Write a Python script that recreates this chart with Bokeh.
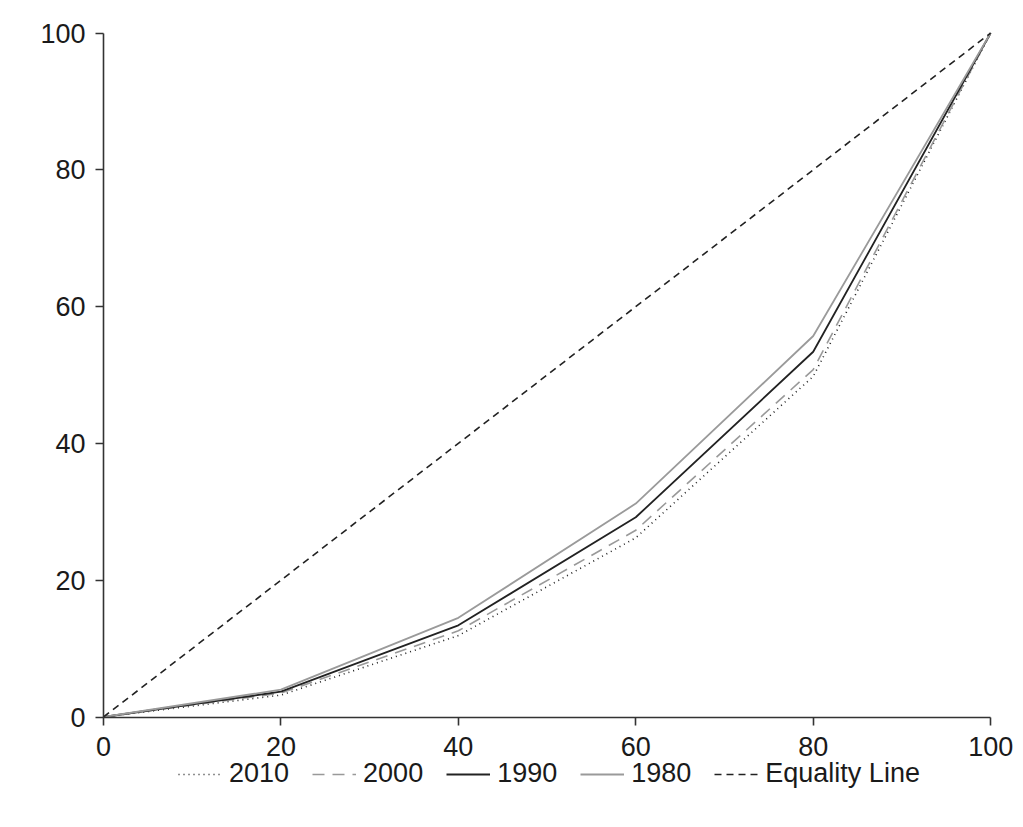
from bokeh.plotting import figure
from bokeh.models import Range1d, Legend, LegendItem, FixedTicker
from bokeh.embed import file_html
from bokeh.resources import INLINE

x = [0, 20, 40, 60, 80, 100]
s2010 = [0, 3.2, 11.9, 26.2, 49.8, 100]
s2000 = [0, 3.5, 12.6, 27.3, 50.8, 100]
s1990 = [0, 3.7, 13.4, 29.2, 53.4, 100]
s1980 = [0, 4.0, 14.5, 31.2, 55.7, 100]
equality = [0, 100]
eq_x = [0, 100]
ticks = [0, 20, 40, 60, 80, 100]

FONT = "Liberation Sans"
Y_START = -12.5
Y_END = 103
X_START = -8
X_END = 102.8
PX_X = 8.87
PX_Y = 6.84

p = figure(frame_width=int(round((X_END - X_START) * PX_X)),
           frame_height=int(round((Y_END - Y_START) * PX_Y)),
           output_backend="svg", toolbar_location=None,
           x_range=Range1d(X_START, X_END), y_range=Range1d(Y_START, Y_END),
           min_border_left=32, min_border_right=0, min_border_top=12, min_border_bottom=0)
p.outline_line_color = None
p.xgrid.visible = False
p.ygrid.visible = False
p.background_fill_color = "white"
p.border_fill_color = "white"

r2010 = p.line(x, s2010, line_color="#222222", line_width=1.6, line_dash="1 4")
r2000 = p.line(x, s2000, line_color="#999999", line_width=1.6, line_dash="12 8")
r1990 = p.line(x, s1990, line_color="#222222", line_width=1.8)
r1980 = p.line(x, s1980, line_color="#9a9a9a", line_width=1.8)
req = p.line(eq_x, equality, line_color="#222222", line_width=1.6, line_dash="7 5")

for ax in (p.xaxis[0], p.yaxis[0]):
    ax.ticker = FixedTicker(ticks=ticks)
    ax.axis_line_color = "#333333"
    ax.axis_line_width = 1.6
    ax.major_tick_line_color = "#333333"
    ax.major_tick_line_width = 1.6
    ax.major_tick_out = 8
    ax.major_tick_in = 0
    ax.minor_tick_line_color = None
    ax.major_label_text_font = FONT
    ax.major_label_text_font_size = "27px"
    ax.major_label_text_color = "#1a1a1a"
    ax.bounds = (0, 100)
    ax.fixed_location = 0
p.xaxis[0].major_label_standoff = 12
p.yaxis[0].major_label_standoff = 10

legend = Legend(items=[
    LegendItem(label="2010", renderers=[r2010]),
    LegendItem(label="2000", renderers=[r2000]),
    LegendItem(label="1990", renderers=[r1990]),
    LegendItem(label="1980", renderers=[r1980]),
    LegendItem(label="Equality Line", renderers=[req]),
], orientation="horizontal", location=(146, 13))
legend.label_text_font = FONT
legend.label_text_font_size = "27px"
legend.label_text_color = "#1a1a1a"
legend.border_line_color = None
legend.background_fill_alpha = 0
legend.glyph_width = 44
legend.label_standoff = 7
legend.spacing = 23
legend.padding = 0
legend.margin = 0
p.add_layout(legend, "center")

open("out.html", "w").write(file_html(p, INLINE))
